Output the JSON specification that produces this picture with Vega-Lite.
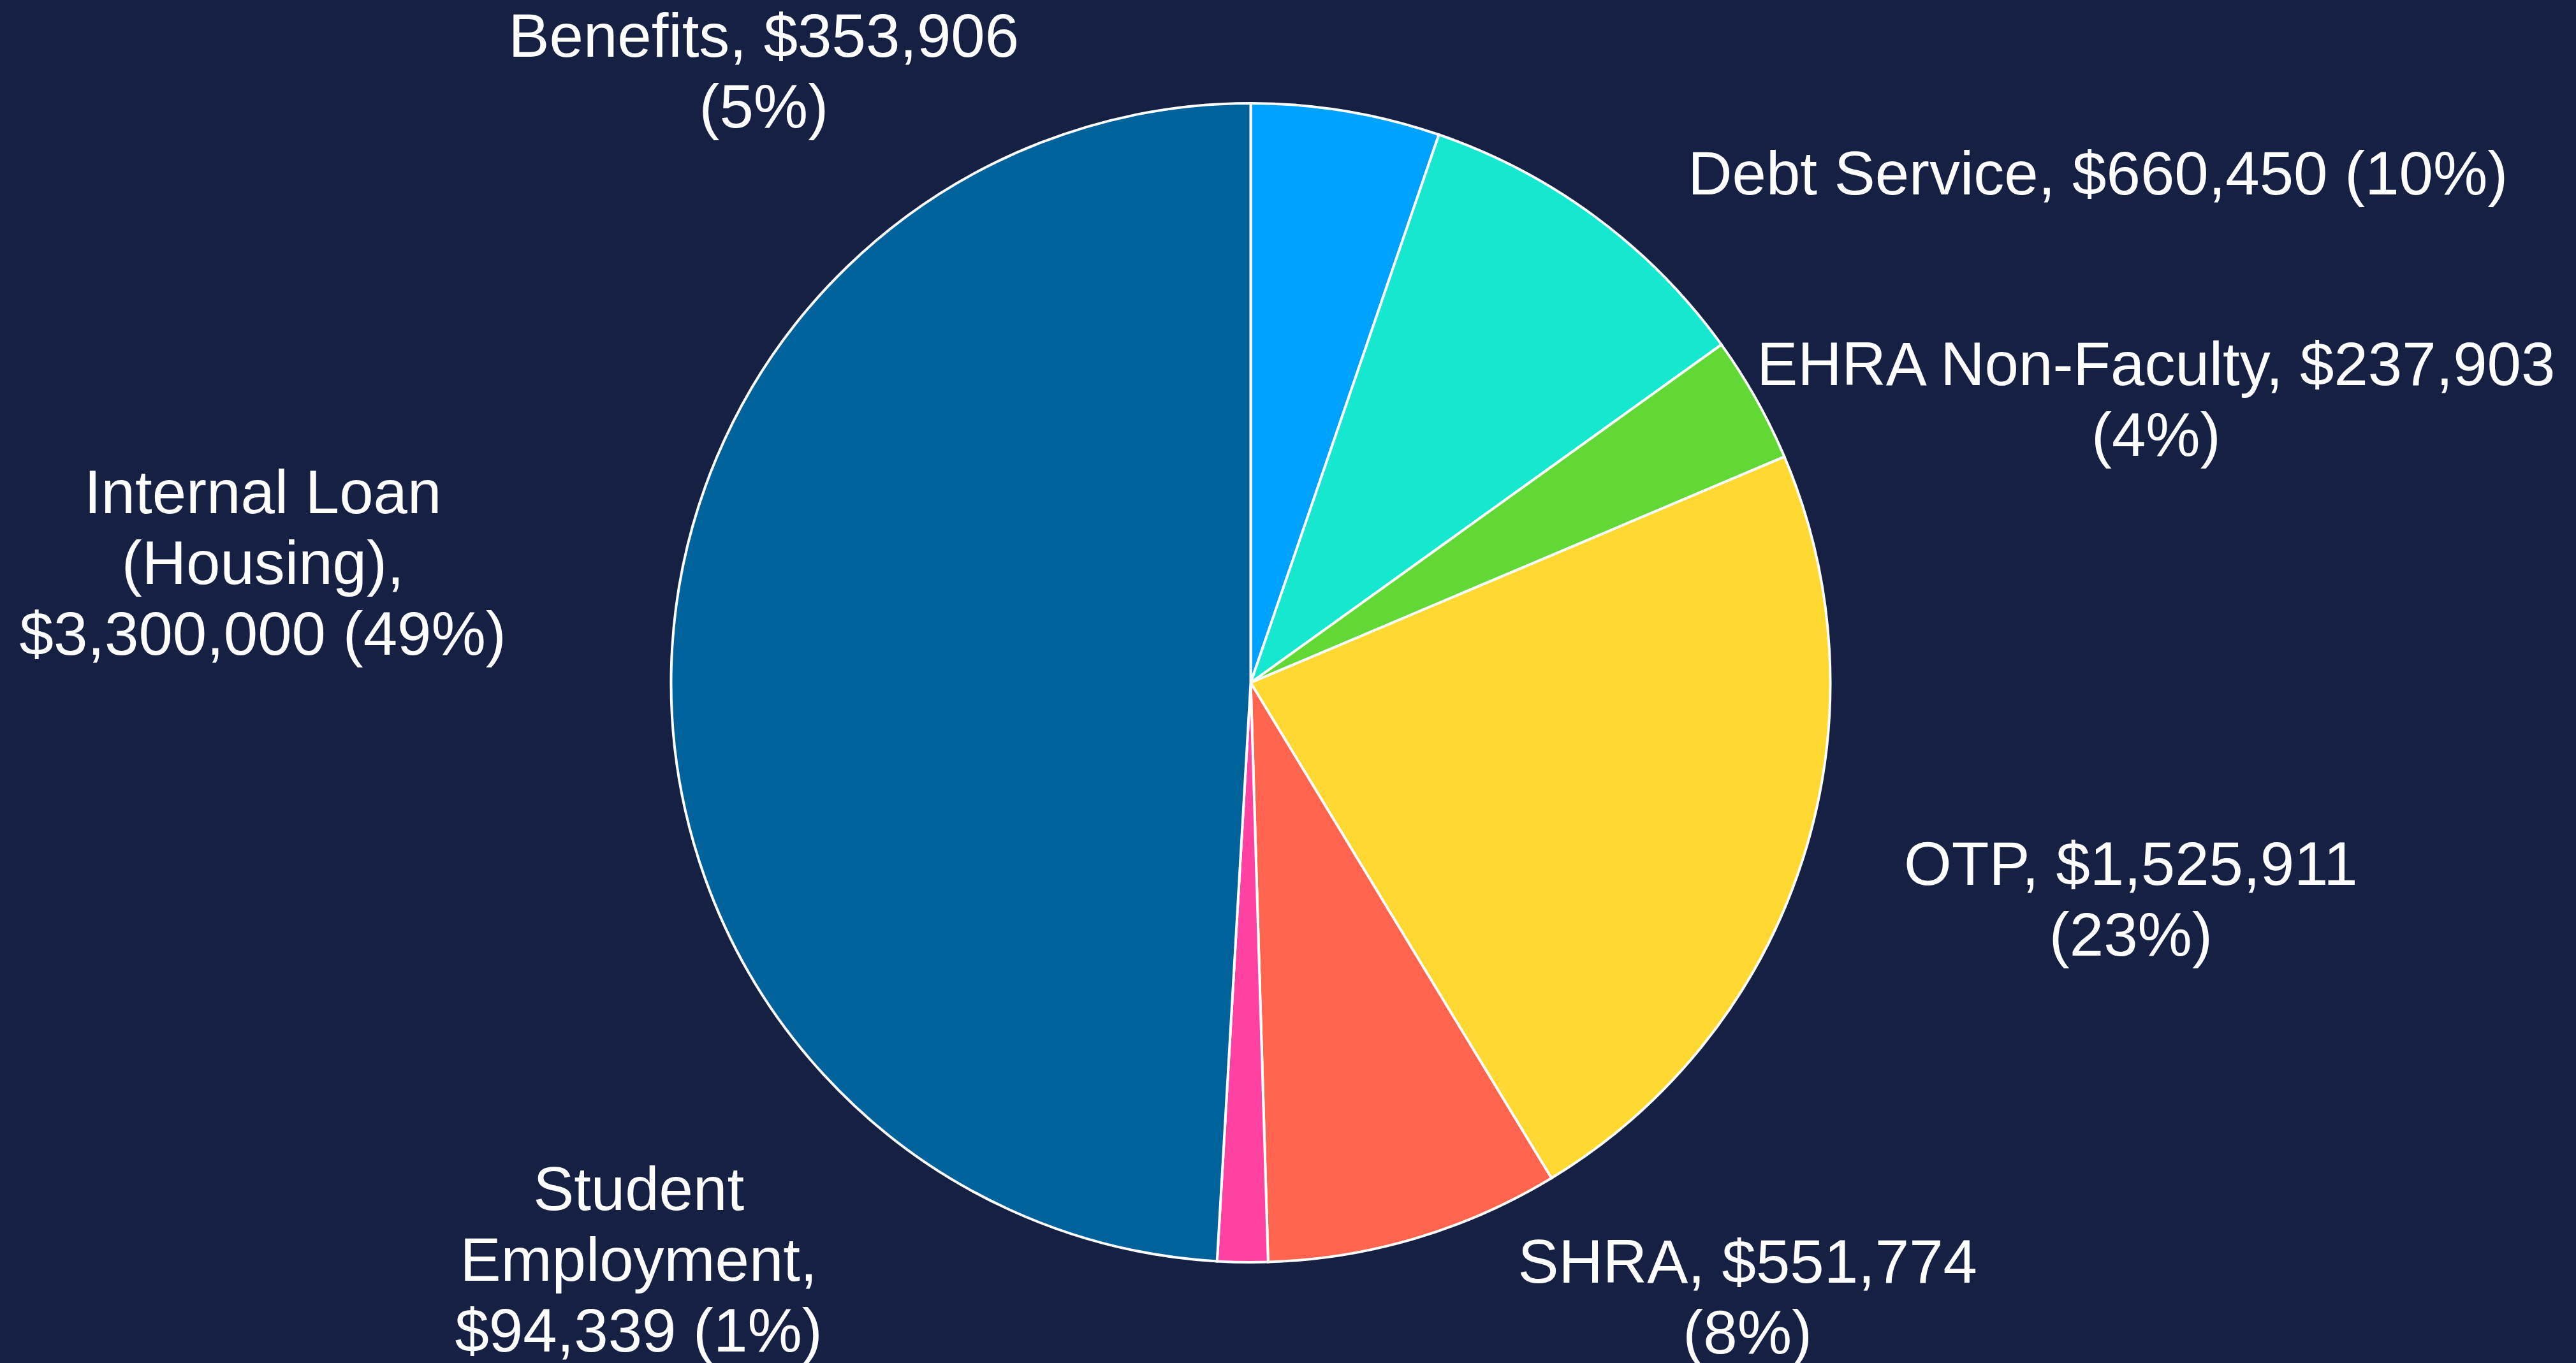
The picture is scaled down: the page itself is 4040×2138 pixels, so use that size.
{
  "$schema": "https://vega.github.io/schema/vega-lite/v6.json",
  "width": 3923,
  "height": 2134,
  "autosize": "none",
  "padding": {"left": 0, "right": 117, "top": 4, "bottom": 0},
  "background": "#152042",
  "config": {"view": {"stroke": null}},
  "data": {
    "values": [
      {"category": "Benefits", "amount": 353906, "rank": 1, "label": "Benefits, $353,906\n(5%)"},
      {"category": "Debt Service", "amount": 660450, "rank": 2, "label": "Debt Service, $660,450 (10%)"},
      {"category": "EHRA Non-Faculty", "amount": 237903, "rank": 3, "label": "EHRA Non-Faculty, $237,903\n(4%)"},
      {"category": "OTP", "amount": 1525911, "rank": 4, "label": "OTP, $1,525,911\n(23%)"},
      {"category": "SHRA", "amount": 551774, "rank": 5, "label": "SHRA, $551,774\n(8%)"},
      {"category": "Student Employment", "amount": 94339, "rank": 6, "label": "Student\nEmployment,\n$94,339 (1%)"},
      {"category": "Internal Loan (Housing)", "amount": 3300000, "rank": 7, "label": "Internal Loan\n(Housing),\n$3,300,000 (49%)"}
    ]
  },
  "encoding": {
    "theta": {"field": "amount", "type": "quantitative", "stack": true},
    "order": {"field": "rank", "type": "quantitative"}
  },
  "layer": [
    {
      "mark": {"type": "arc", "outerRadius": 909, "stroke": "#ffffff", "strokeWidth": 4},
      "encoding": {
        "color": {
          "field": "category",
          "type": "nominal",
          "scale": {
            "domain": ["Benefits", "Debt Service", "EHRA Non-Faculty", "OTP", "SHRA", "Student Employment", "Internal Loan (Housing)"],
            "range": ["#00A2FF", "#16E7CF", "#61D836", "#FFD932", "#FF644E", "#FF42A1", "#00629A"]
          },
          "legend": null
        }
      }
    },
    {
      "mark": {"type": "text", "radius": 816, "dx": -898, "dy": -206, "align": "center", "baseline": "middle", "font": "Liberation Sans", "fontSize": 96, "lineHeight": 111, "lineBreak": "\n", "color": "#ffffff"},
      "encoding": {"text": {"condition": {"test": "datum.category === 'Benefits'", "field": "label"}, "value": ""}}
    },
    {
      "mark": {"type": "text", "radius": 1431, "dx": 475, "dy": 353, "align": "center", "baseline": "middle", "font": "Liberation Sans", "fontSize": 96, "lineHeight": 111, "lineBreak": "\n", "color": "#ffffff"},
      "encoding": {"text": {"condition": {"test": "datum.category === 'Debt Service'", "field": "label"}, "value": ""}}
    },
    {
      "mark": {"type": "text", "radius": 1453, "dx": 153, "dy": 216, "align": "center", "baseline": "middle", "font": "Liberation Sans", "fontSize": 96, "lineHeight": 111, "lineBreak": "\n", "color": "#ffffff"},
      "encoding": {"text": {"condition": {"test": "datum.category === 'EHRA Non-Faculty'", "field": "label"}, "value": ""}}
    },
    {
      "mark": {"type": "text", "radius": 1419, "dx": 30, "dy": -148, "align": "center", "baseline": "middle", "font": "Liberation Sans", "fontSize": 96, "lineHeight": 111, "lineBreak": "\n", "color": "#ffffff"},
      "encoding": {"text": {"condition": {"test": "datum.category === 'OTP'", "field": "label"}, "value": ""}}
    },
    {
      "mark": {"type": "text", "radius": 1149, "dx": 453, "dy": -190, "align": "center", "baseline": "middle", "font": "Liberation Sans", "fontSize": 96, "lineHeight": 111, "lineBreak": "\n", "color": "#ffffff"},
      "encoding": {"text": {"condition": {"test": "datum.category === 'SHRA'", "field": "label"}, "value": ""}}
    },
    {
      "mark": {"type": "text", "radius": 922, "dx": -947, "dy": -124, "align": "center", "baseline": "middle", "font": "Liberation Sans", "fontSize": 96, "lineHeight": 111, "lineBreak": "\n", "color": "#ffffff"},
      "encoding": {"text": {"condition": {"test": "datum.category === 'Student Employment'", "field": "label"}, "value": ""}}
    },
    {
      "mark": {"type": "text", "radius": 1554, "dx": 4, "dy": -250, "align": "center", "baseline": "middle", "font": "Liberation Sans", "fontSize": 96, "lineHeight": 111, "lineBreak": "\n", "color": "#ffffff"},
      "encoding": {"text": {"condition": {"test": "datum.category === 'Internal Loan (Housing)'", "field": "label"}, "value": ""}}
    }
  ]
}
